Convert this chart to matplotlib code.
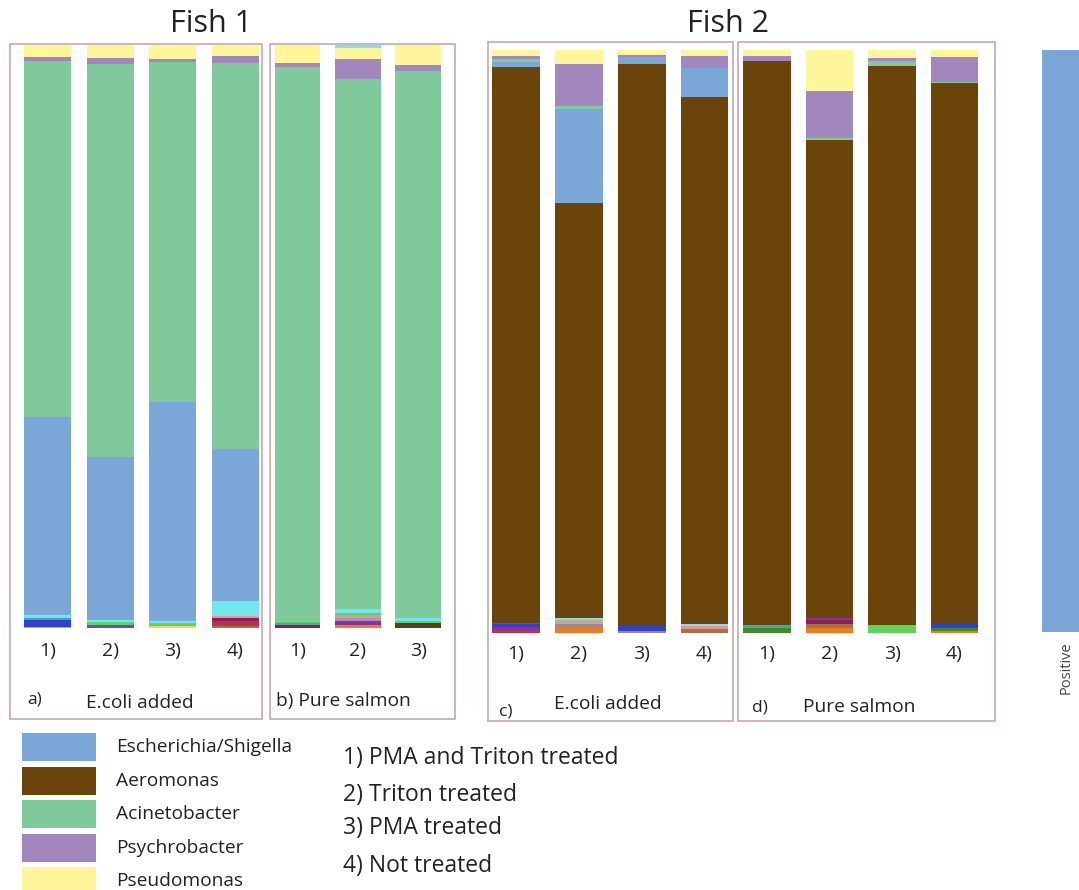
import numpy as np
import matplotlib
matplotlib.use("Agg")
import matplotlib.pyplot as plt
from matplotlib.patches import Rectangle

plt.rcParams['font.family'] = ['Open Sans', 'DejaVu Sans']

W, H = 1079, 890

# main taxa, stacked bottom -> top
taxa = ['Aeromonas', 'Escherichia/Shigella', 'Acinetobacter', 'Psychrobacter', 'Pseudomonas']
taxa_colors = {'Escherichia/Shigella': '#7ba7d8', 'Aeromonas': '#6b440c',
               'Acinetobacter': '#7fc99b', 'Psychrobacter': '#a187be',
               'Pseudomonas': '#fff69c'}
legend_order = ['Escherichia/Shigella', 'Aeromonas', 'Acinetobacter', 'Psychrobacter', 'Pseudomonas']

# low abundance genera at the foot of each bar
minor_colors = ['#f07a1c', '#f5d94a', '#5c3b1e', '#a87048', '#3d8b2b', '#9a8a8a',
                '#b8314e', '#8a1f5a', '#8c2f9a', '#b08cc0', '#e9968a', '#c8a888',
                '#3040d0', '#6a4cc8', '#4aa3a8', '#5ed35e', '#72e6ee']

# Fish 1, a) E.coli added
a_labels = ['1)', '2)', '3)', '4)']
a_aero = [0, 0, 0, 0]
a_esch = [34.0, 28.0, 37.5, 26.1]
a_acin = [61.0, 67.4, 58.4, 66.2]
a_psyc = [0.7, 1.0, 0.5, 1.2]
a_pseu = [2.1, 2.2, 2.4, 1.9]
a_minor = {12: [1.2, 0, 0, 0], 16: [0.5, 0.4, 0.3, 2.6], 10: [0.2, 0, 0, 0.2],
           14: [0.3, 0, 0, 0], 15: [0, 0.5, 0.5, 0], 13: [0, 0.5, 0, 0],
           1: [0, 0, 0.4, 0], 3: [0, 0, 0, 0.3], 6: [0, 0, 0, 0.9], 7: [0, 0, 0, 0.6]}
a_top = [0, 0, 0, 0]

# Fish 1, b) Pure salmon
b_labels = ['1)', '2)', '3)']
b_aero = [0, 0, 0]
b_esch = [0, 0, 0]
b_acin = [95.1, 90.9, 93.9]
b_psyc = [0.7, 3.4, 1.0]
b_pseu = [3.1, 1.9, 3.4]
b_minor = {15: [0.2, 0.4, 0.3], 7: [0.6, 0, 0], 14: [0.3, 0, 0], 0: [0, 0.6, 0],
           9: [0, 0.6, 0], 10: [0, 0.4, 0], 8: [0, 0.6, 0], 16: [0, 0.7, 0.5],
           2: [0, 0, 0.9]}
b_top = [0, 0.5, 0]

# Fish 2, c) E.coli added
c_labels = ['1)', '2)', '3)', '4)']
c_aero = [95.2, 71.2, 96.4, 90.4]
c_esch = [1.0, 16.1, 1.2, 5.0]
c_acin = [0.5, 0.5, 0, 0]
c_psyc = [0.5, 7.2, 0.3, 2.1]
c_pseu = [1.0, 2.4, 0.9, 1.0]
c_minor = {13: [0.3, 0, 0, 0], 12: [0.5, 0, 0.9, 0], 8: [0.4, 0, 0, 0],
           6: [0.6, 0, 0, 0], 0: [0, 0.9, 0, 0], 5: [0, 0.7, 0.3, 0],
           11: [0, 0.6, 0, 0], 16: [0, 0.4, 0, 0.3], 3: [0, 0, 0, 0.7],
           10: [0, 0, 0, 0.5]}
c_top = [0, 0, 0, 0]

# Fish 2, d) Pure salmon
d_labels = ['1)', '2)', '3)', '4)']
d_aero = [96.8, 82.0, 95.8, 92.8]
d_esch = [0, 0, 0, 0]
d_acin = [0, 0.3, 0.9, 0.2]
d_psyc = [0.9, 8.1, 0.5, 4.3]
d_pseu = [1.0, 7.0, 1.4, 1.2]
d_minor = {4: [0.9, 0, 0, 0.6], 14: [0.4, 0, 0, 0], 0: [0, 0.9, 0, 0.3],
           3: [0, 0.7, 0, 0], 7: [0, 0.6, 0, 0], 8: [0, 0.4, 0, 0],
           15: [0, 0, 1.4, 0], 12: [0, 0, 0, 0.6]}
d_top = [0, 0, 0, 0]

# positive control
pos_labels = ['Positive']
pos_esch = [100.0]

treatments = ['1) PMA and Triton treated', '2) Triton treated',
              '3) PMA treated', '4) Not treated']

fig = plt.figure(figsize=(W / 100, H / 100), dpi=100)


def px_axes(x0, y0, x1, y1):
    return fig.add_axes([x0 / W, 1 - y1 / H, (x1 - x0) / W, (y1 - y0) / H])


def stacked(ax, labels, aero, esch, acin, psyc, pseu, minor, top, width, pad):
    x = np.arange(len(labels))
    bottom = np.zeros(len(labels))
    for k in sorted(minor):
        v = np.array(minor[k], dtype=float)
        ax.bar(x, v, width, bottom=bottom, color=minor_colors[k], linewidth=0)
        bottom += v
    for name, vals in zip(taxa, [aero, esch, acin, psyc, pseu]):
        v = np.array(vals, dtype=float)
        ax.bar(x, v, width, bottom=bottom, color=taxa_colors[name], linewidth=0)
        bottom += v
    ax.bar(x, top, width, bottom=bottom, color='#72e6ee', linewidth=0)
    ax.set_xlim(-0.5, len(labels) - 0.5)
    ax.set_ylim(0, 100)
    ax.set_xticks(x, labels)
    ax.set_yticks([])
    ax.tick_params(axis='x', length=0, pad=pad, labelsize=14, labelcolor='#222222')
    for s in ax.spines.values():
        s.set_visible(False)
    ax.patch.set_alpha(0)


# overlay in pixel units for frames, titles and legend
ov = px_axes(0, 0, W, H)
ov.set_xlim(0, W)
ov.set_ylim(H, 0)
ov.axis('off')

frame = '#c4a9ab'
for (x0, y0, x1, y1) in [(10, 44, 262, 719), (270, 44, 455, 719),
                         (488, 42, 733, 721), (738, 42, 995, 721)]:
    ov.add_patch(Rectangle((x0, y0), x1 - x0, y1 - y0, fill=False,
                           edgecolor=frame, linewidth=1.2))

ov.text(211, 24, 'Fish 1', ha='center', va='center', fontsize=22, color='#222222')
ov.text(728, 24, 'Fish 2', ha='center', va='center', fontsize=22, color='#222222')

ov.text(27, 699, 'a)', ha='left', va='center', fontsize=12.5, color='#222222')
ov.text(140, 703, 'E.coli added', ha='center', va='center', fontsize=13.8, color='#222222')
ov.text(276, 701, 'b) Pure salmon', ha='left', va='center', fontsize=13.8, color='#222222')
ov.text(499, 711, 'c)', ha='left', va='center', fontsize=12.5, color='#222222')
ov.text(608, 704, 'E.coli added', ha='center', va='center', fontsize=13.8, color='#222222')
ov.text(752, 707, 'd)', ha='left', va='center', fontsize=12.5, color='#222222')
ov.text(859, 707, 'Pure salmon', ha='center', va='center', fontsize=13.8, color='#222222')

# colour key
for i, name in enumerate(legend_order):
    y = 733 + i * 33.6
    ov.add_patch(Rectangle((22, y), 74, 28, facecolor=taxa_colors[name], edgecolor='none'))
    ov.text(116, y + 14, name, ha='left', va='center', fontsize=13.8, color='#222222')

for i, t in enumerate(treatments):
    ov.text(343, [758, 795, 828, 866][i], t, ha='left', va='center', fontsize=16.5,
            color='#222222')

# bar panels
ax_a = px_axes(16.2, 45, 266.8, 628)
stacked(ax_a, a_labels, a_aero, a_esch, a_acin, a_psyc, a_pseu, a_minor, a_top, 0.75, 10)
ax_b = px_axes(267.3, 45, 448.2, 628)
stacked(ax_b, b_labels, b_aero, b_esch, b_acin, b_psyc, b_pseu, b_minor, b_top, 0.76, 10)
ax_c = px_axes(484.6, 50, 735.9, 633)
stacked(ax_c, c_labels, c_aero, c_esch, c_acin, c_psyc, c_pseu, c_minor, c_top, 0.76, 9)
ax_d = px_axes(735.8, 50, 985.8, 633)
stacked(ax_d, d_labels, d_aero, d_esch, d_acin, d_psyc, d_pseu, d_minor, d_top, 0.76, 9)

ax_p = px_axes(1042, 50, 1090, 632)
ax_p.bar([0], pos_esch, 1.0, color=taxa_colors['Escherichia/Shigella'], linewidth=0)
ax_p.set_xlim(-0.5, 0.5)
ax_p.set_ylim(0, 100)
ax_p.set_xticks([0], pos_labels, rotation=90)
ax_p.set_yticks([])
ax_p.tick_params(axis='x', length=0, pad=7, labelsize=10.5, labelcolor='#444444')
for s in ax_p.spines.values():
    s.set_visible(False)

fig.savefig('out.png', dpi=100)
